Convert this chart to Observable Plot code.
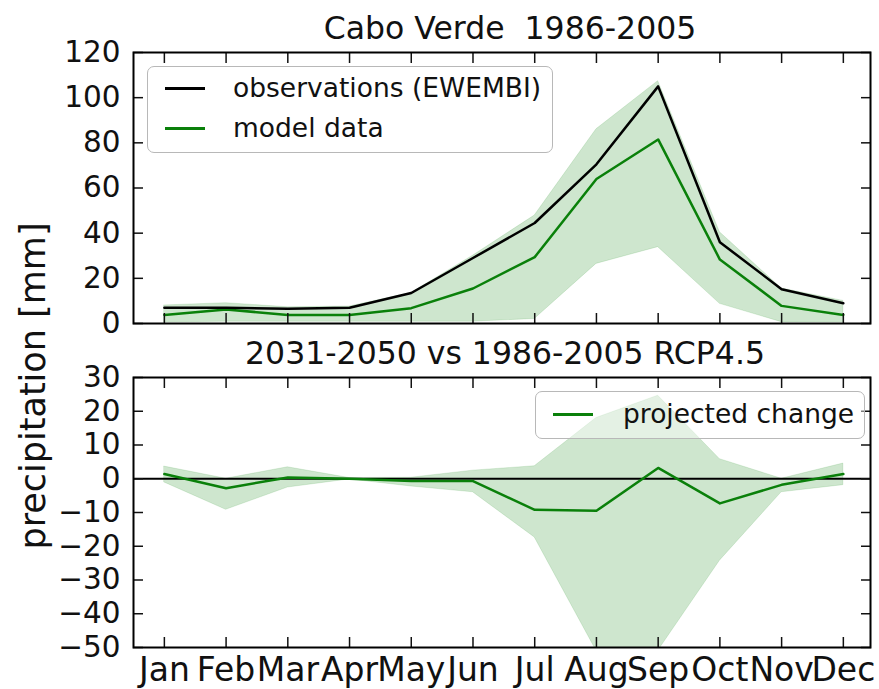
<!DOCTYPE html>
<html><head><meta charset="utf-8">
<script src="https://cdn.jsdelivr.net/npm/d3@7"></script>
<script src="https://cdn.jsdelivr.net/npm/@observablehq/plot@0.6"></script>
<style>
body{margin:0;background:#fff;}
#wrap{position:relative;width:879px;height:689px;font-family:"DejaVu Sans",sans-serif;color:#111;overflow:hidden;}
.panel{position:absolute;left:0;}
svg text{white-space:pre;}
.ylab{position:absolute;left:33px;top:386px;transform:translate(-50%,-50%) rotate(-90deg);font-size:35px;white-space:nowrap;color:#111;}
.leg{position:absolute;border:1.5px solid #b8b8b8;border-radius:7px;box-sizing:border-box;}
.sw{position:absolute;height:2.5px;width:40px;}
.lt{position:absolute;white-space:nowrap;line-height:1;transform:translateY(-50%);font-size:26.5px;color:#111;}
</style></head><body><div id="wrap"></div><script>
const months = ["Jan","Feb","Mar","Apr","May","Jun","Jul","Aug","Sep","Oct","Nov","Dec"];
const obs      = [7, 7, 6.5, 7, 13.5, 29, 44.5, 70.5, 105, 36, 15.2, 9];
const model    = [3.8, 6.2, 3.8, 3.8, 6.8, 15.5, 29.4, 64, 81.5, 28.3, 7.8, 3.8];
const modelLo  = [0.5, 0.8, 0.8, 0.8, 0.8, 0.8, 2, 26.4, 33.8, 8.7, 0.6, 0.5];
const modelHi  = [8, 9, 7.2, 7.5, 13.5, 30, 47.8, 86, 107.3, 40.4, 15.5, 10];
const change   = [1.4, -2.8, 0.4, 0, -0.7, -0.7, -9.2, -9.5, 3.2, -7.3, -1.8, 1.4];
const changeLo = [-1.1, -9.2, -2.6, -0.2, -2.3, -4, -17.4, -51, -51, -24.3, -4, -1.9];
const changeHi = [3.6, 0, 3.4, 0.2, 0.3, 2.4, 3.7, 18, 24.6, 5.8, 0, 4.5];
const topTicks = [0, 20, 40, 60, 80, 100, 120];
const botTicks = [30, 20, 10, 0, -10, -20, -30, -40, -50];
const titleTop = "Cabo Verde  1986-2005";
const titleBot = "2031-2050 vs 1986-2005 RCP4.5";
const yLabel = "precipitation [mm]";
const legTop = ["observations (EWEMBI)", "model data"];
const legBot = ["projected change"];

const idx = months.map((_, i) => i);
const rows = idx.map(i => ({i, obs: obs[i], model: model[i], lo: modelLo[i], hi: modelHi[i],
  ch: change[i], clo: changeLo[i], chi: changeHi[i]}));

const GREEN = "#0a800a";
const xdom = [-0.5, 11.44];
const font = {fontFamily: "DejaVu Sans", background: "transparent", overflow: "visible", color: "#111"};

function frameTicks(yticks) {
  return [
    Plot.axisX(idx, {anchor: "bottom", tickSize: 10, dy: -10, fill: "none", strokeWidth: 1.5, label: null}),
    Plot.axisX(idx, {anchor: "top", tickSize: 10, dy: 10, fill: "none", strokeWidth: 1.5, label: null}),
    Plot.axisY(yticks, {anchor: "left", tickSize: 10, dx: 10, fill: "none", strokeWidth: 1.5, label: null}),
    Plot.axisY(yticks, {anchor: "right", tickSize: 10, dx: -10, fill: "none", strokeWidth: 1.5, label: null}),
    Plot.axisY(yticks, {anchor: "left", tickSize: 0, tickPadding: 13, fontSize: 29.5, stroke: "none", label: null}),
    Plot.frame({stroke: "black", strokeWidth: 2})
  ];
}

const topPlot = Plot.plot({
  width: 879, height: 330,
  marginLeft: 133, marginRight: 9, marginTop: 52, marginBottom: 7,
  style: font,
  x: {domain: xdom, axis: null},
  y: {domain: [0, 120], axis: null},
  marks: [
    Plot.areaY(rows, {x: "i", y1: "lo", y2: "hi", fill: GREEN, fillOpacity: 0.2, stroke: GREEN, strokeOpacity: 0.12, clip: true}),
    Plot.lineY(rows, {x: "i", y: "model", stroke: GREEN, strokeWidth: 2.5}),
    Plot.lineY(rows, {x: "i", y: "obs", stroke: "black", strokeWidth: 2.5}),
    ...frameTicks(topTicks),
    Plot.text([titleTop], {text: d => d, frameAnchor: "top", lineAnchor: "bottom", dy: -14, dx: 8, fontSize: 31.5, fill: "#111"})
  ]
});

const botPlot = Plot.plot({
  width: 879, height: 359,
  marginLeft: 133, marginRight: 9, marginTop: 47, marginBottom: 42,
  style: font,
  x: {domain: xdom, axis: null},
  y: {domain: [-50, 30], axis: null},
  marks: [
    Plot.areaY(rows, {x: "i", y1: "clo", y2: "chi", fill: GREEN, fillOpacity: 0.2, stroke: GREEN, strokeOpacity: 0.12, clip: true}),
    Plot.ruleY([0], {stroke: "black", strokeWidth: 2}),
    Plot.lineY(rows, {x: "i", y: "ch", stroke: GREEN, strokeWidth: 2.5}),
    ...frameTicks(botTicks),
    Plot.axisX(idx, {anchor: "bottom", tickSize: 0, tickPadding: 10, fontSize: 33, stroke: "none", label: null, tickFormat: i => months[i]}),
    Plot.text([titleBot], {text: d => d, frameAnchor: "top", lineAnchor: "bottom", dy: -14, dx: 3, fontSize: 31.5, fill: "#111"})
  ]
});

const wrap = document.getElementById("wrap");
topPlot.classList.add("panel"); topPlot.style.top = "0px";
botPlot.classList.add("panel"); botPlot.style.top = "330px";
wrap.appendChild(topPlot);
wrap.appendChild(botPlot);

const yl = document.createElement("div");
yl.className = "ylab"; yl.textContent = yLabel;
wrap.appendChild(yl);

function legend(box, items) {
  const d = document.createElement("div");
  d.className = "leg";
  Object.assign(d.style, {left: box.x + "px", top: box.y + "px", width: box.w + "px", height: box.h + "px", background: box.bg});
  wrap.appendChild(d);
  items.forEach(([label, color], k) => {
    const s = document.createElement("div");
    s.className = "sw";
    Object.assign(s.style, {left: (box.sx + box.x) + "px", top: (box.y + box.ry[k] - 1) + "px", background: color});
    wrap.appendChild(s);
    const t = document.createElement("div");
    t.className = "lt"; t.textContent = label;
    Object.assign(t.style, {left: (box.x + box.tx) + "px", top: (box.y + box.ry[k]) + "px"});
    wrap.appendChild(t);
  });
}
legend({x: 147, y: 66, w: 406, h: 87, bg: "rgba(255,255,255,0.85)", sx: 18, tx: 86, ry: [22, 62]},
  [[legTop[0], "black"], [legTop[1], GREEN]]);
legend({x: 535, y: 391, w: 330, h: 48, bg: "rgba(255,255,255,0.45)", sx: 18, tx: 88, ry: [23]},
  [[legBot[0], GREEN]]);
</script></body></html>
